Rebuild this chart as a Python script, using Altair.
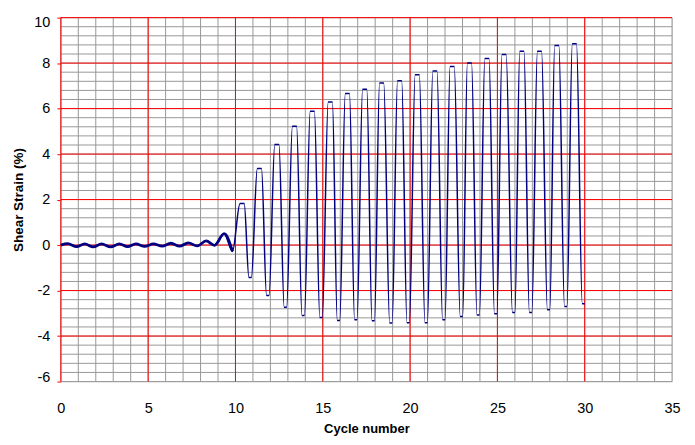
import altair as alt
import pandas as pd

# Early small oscillations (cycle, shear strain %)
wiggle_x = [0.0, 0.4, 0.9, 1.37, 1.85, 2.33, 2.85, 3.35, 3.82, 4.3, 4.8, 5.3, 5.8, 6.3, 6.8, 7.3, 7.8, 8.32, 8.8, 9.35, 9.83]
wiggle_y = [0.0, 0.06, -0.07, 0.05, -0.08, 0.05, -0.08, 0.05, -0.07, 0.05, -0.06, 0.05, -0.05, 0.08, -0.05, 0.1, -0.04, 0.18, -0.01, 0.5, -0.28]

# Large cycles: flat-ish peak caps (start / end) and trough caps (start / end)
peak_x0 = [10.26, 11.25, 12.25, 13.26, 14.28, 15.31, 16.29, 17.28, 18.25, 19.28,
           20.29, 21.30, 22.29, 23.28, 24.28, 25.26, 26.28, 27.29, 28.28, 29.29]
peak_x1 = [10.50, 11.49, 12.49, 13.50, 14.52, 15.55, 16.53, 17.52, 18.49, 19.52,
           20.53, 21.54, 22.53, 23.52, 24.52, 25.50, 26.52, 27.53, 28.52, 29.53]
peak_y = [1.83, 3.37, 4.42, 5.22, 5.88, 6.29, 6.66, 6.85, 7.12, 7.22,
          7.49, 7.65, 7.85, 8.0, 8.2, 8.38, 8.52, 8.52, 8.77, 8.85]
trough_x0 = [10.77, 11.78, 12.79, 13.81, 14.83, 15.83, 16.82, 17.82, 18.83, 19.82,
             20.85, 21.86, 22.87, 23.83, 24.83, 25.86, 26.83, 27.86, 28.84, 29.86]
trough_x1 = [10.91, 11.92, 12.93, 13.95, 14.97, 15.97, 16.96, 17.96, 18.97, 19.96,
             20.99, 22.00, 23.01, 23.97, 24.97, 26.00, 26.97, 28.00, 28.98, 30.00]
trough_y = [-1.43, -2.22, -2.73, -3.1, -3.18, -3.32, -3.28, -3.33, -3.43, -3.41,
            -3.41, -3.28, -3.14, -3.08, -3.02, -2.97, -2.97, -2.84, -2.7, -2.58]

# Axis ticks / grid values
x_ticks = [0, 5, 10, 15, 20, 25, 30, 35]
y_ticks = [-6, -4, -2, 0, 2, 4, 6, 8, 10]
x_minor = list(range(0, 36))
y_minor = [round(-6 + 0.4 * i, 2) for i in range(41)]
x_major = [0, 5, 10, 15, 20, 25, 30]
y_major = [-4, -2, 0, 2, 4, 6, 8, 10]

wave = pd.DataFrame({
    "x": wiggle_x + peak_x0 + peak_x1 + trough_x0 + trough_x1,
    "y": wiggle_y + peak_y + peak_y + trough_y + trough_y,
}).sort_values("x").reset_index(drop=True)

FONT = "Liberation Sans, Arial, sans-serif"
xs = alt.Scale(domain=[0, 35], nice=False, zero=False)
ys = alt.Scale(domain=[-6, 10], nice=False, zero=False)

xaxis = alt.Axis(values=x_ticks, grid=False, ticks=False, domain=False,
                 labelFlush=False, labelFont=FONT, labelFontSize=14.5,
                 labelColor="#000000", labelPadding=20,
                 title="Cycle number", titleFont=FONT, titleFontSize=13,
                 titleFontWeight="bold", titleColor="#000000",
                 titleY=51, titleBaseline="alphabetic")
yaxis = alt.Axis(values=y_ticks, grid=False, ticks=True, tickColor="#ff0000",
                 tickSize=4, domain=False, labelFont=FONT, labelFontSize=14.5,
                 labelColor="#000000", labelPadding=7, labelFlush=True,
                 labelFlushOffset=2.5, labelExpr="'' + datum.value",
                 title="Shear Strain (%)", titleFont=FONT, titleFontSize=13.5,
                 titleFontWeight="bold", titleColor="#000000",
                 titleX=-38, titleBaseline="alphabetic")

vminor = alt.Chart(pd.DataFrame({"gx": x_minor})).mark_rule(
    color="#999999", strokeWidth=1).encode(x=alt.X("gx:Q", scale=xs, axis=xaxis))
hminor = alt.Chart(pd.DataFrame({"gy": y_minor})).mark_rule(
    color="#999999", strokeWidth=1).encode(y=alt.Y("gy:Q", scale=ys, axis=yaxis))
vmajor = alt.Chart(pd.DataFrame({"gx": x_major})).mark_rule(
    color="#ff0000", strokeWidth=1).encode(x=alt.X("gx:Q", scale=xs, axis=xaxis))
hmajor = alt.Chart(pd.DataFrame({"gy": y_major})).mark_rule(
    color="#ff0000", strokeWidth=1).encode(y=alt.Y("gy:Q", scale=ys, axis=yaxis))

line = alt.Chart(wave).mark_line(color="#000080", strokeWidth=1.5,
                                 interpolate="monotone").encode(
    x=alt.X("x:Q", scale=xs, axis=xaxis),
    y=alt.Y("y:Q", scale=ys, axis=yaxis),
    order="x:Q",
)
early = alt.Chart(wave).transform_filter("datum.x <= 9.9").mark_line(
    color="#000080", strokeWidth=2.8, interpolate="monotone").encode(
    x=alt.X("x:Q", scale=xs, axis=xaxis),
    y=alt.Y("y:Q", scale=ys, axis=yaxis),
    order="x:Q",
)

chart = alt.layer(vminor, hminor, vmajor, hmajor, line, early).properties(
    width=613, height=365,
    autosize=alt.AutoSizeParams(type="none"),
    padding={"left": 53, "top": 9, "right": 15, "bottom": 60},
).configure_view(stroke=None).configure(background="#ffffff")

chart.save("out.html", embed_options={"renderer": "svg", "actions": False})
